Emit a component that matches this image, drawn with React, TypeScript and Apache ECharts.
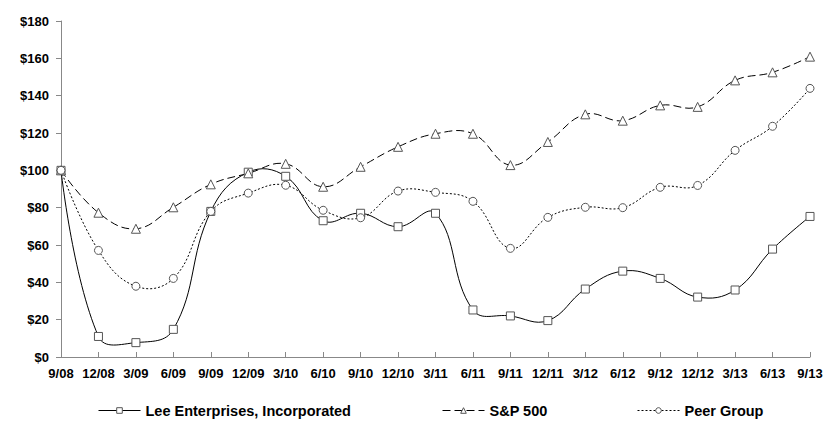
import React, { useEffect, useRef } from "react";
import * as echarts from "echarts";

const categories = ["9/08","12/08","3/09","6/09","9/09","12/09","3/10","6/10","9/10","12/10","3/11","6/11","9/11","12/11","3/12","6/12","9/12","12/12","3/13","6/13","9/13"];
const leeValues = [100, 11, 7.7, 14.8, 78, 99, 96.8, 73, 77, 69.8, 77, 25.2, 22, 19.5, 36.4, 46, 42.1, 32.1, 35.9, 57.8, 75.3];
const spValues = [100, 77.3, 68.7, 80.2, 92.5, 98.4, 103.5, 91.2, 101.9, 112.6, 119.6, 119.6, 102.8, 115.2, 130, 126.6, 134.8, 134, 148.2, 152.5, 160.9];
const peerValues = [100, 57.1, 37.9, 42.1, 78, 87.8, 92, 78.6, 74.6, 88.9, 88.2, 83.4, 58.2, 74.8, 80.2, 80, 90.9, 91.9, 110.7, 123.6, 143.9];
const seriesNames = ["Lee Enterprises, Incorporated", "S&P 500", "Peer Group"];

const FONT = "'Liberation Sans', Arial, sans-serif";
const TENSION = 0.42;

function smoothPath(pts: number[][]): string {
  let d = `M${pts[0][0]},${pts[0][1]}`;
  const n = pts.length;
  const cps: { inX: number; inY: number; outX: number; outY: number }[] = [];
  for (let i = 0; i < n; i++) {
    const p = pts[i];
    if (i === 0 || i === n - 1) {
      cps.push({ inX: p[0], inY: p[1], outX: p[0], outY: p[1] });
      continue;
    }
    const p0 = pts[i - 1];
    const p2 = pts[i + 1];
    const d01 = Math.hypot(p[0] - p0[0], p[1] - p0[1]);
    const d12 = Math.hypot(p2[0] - p[0], p2[1] - p[1]);
    const vx = p2[0] - p0[0];
    const vy = p2[1] - p0[1];
    const sum = d01 + d12 || 1;
    const fo = (TENSION * d12) / sum;
    const fi = (TENSION * d01) / sum;
    cps.push({ inX: p[0] - vx * fi, inY: p[1] - vy * fi, outX: p[0] + vx * fo, outY: p[1] + vy * fo });
  }
  for (let i = 0; i < n - 1; i++) {
    const a = cps[i];
    const b = cps[i + 1];
    const p = pts[i + 1];
    d += ` C${a.outX},${a.outY} ${b.inX},${b.inY} ${p[0]},${p[1]}`;
  }
  return d;
}

function curveSeries(values: number[], dash: number[] | null) {
  return {
    type: "custom",
    coordinateSystem: "cartesian2d",
    silent: true,
    z: 1,
    data: [[0, values[0]]],
    renderItem: (params: any, api: any) => {
      if (params.dataIndex !== 0) return null;
      const pts = values.map((v, i) => api.coord([i, v]));
      const style: any = { fill: "none", stroke: "#000000", lineWidth: 1 };
      if (dash) style.lineDash = dash;
      return { type: "path", shape: { pathData: smoothPath(pts) }, style };
    },
  };
}

export default function App() {
  const ref = useRef<HTMLDivElement>(null);
  useEffect(() => {
    if (!ref.current) return;
    const chart = echarts.init(ref.current, null, { renderer: "svg" });
    const markerStyle = { color: "#ffffff", borderColor: "#555555", borderWidth: 1 };
    const legendBase = {
      top: 398,
      itemWidth: 42,
      itemHeight: 7,
      textStyle: { fontFamily: FONT, fontSize: 14.5, fontWeight: "bold", color: "#000" },
    };
    const dashes: (number[] | string)[] = ["solid", [8, 4], [2, 2]];
    const legendItem = (i: number) => ({
      name: seriesNames[i],
      lineStyle: { color: "#000000", width: 1, type: dashes[i], opacity: 1 },
      itemStyle: markerStyle,
    });
    chart.setOption({
      animation: false,
      backgroundColor: "#ffffff",
      grid: { left: 61, right: 29, top: 21, bottom: 68 },
      legend: [
        { ...legendBase, left: 93, data: [legendItem(0)] },
        { ...legendBase, left: 437, data: [legendItem(1)] },
        { ...legendBase, left: 632, data: [legendItem(2)] },
      ],
      xAxis: {
        type: "category",
        data: categories,
        boundaryGap: false,
        axisLine: { lineStyle: { color: "#888888", width: 1 } },
        axisTick: { inside: true, length: 5, lineStyle: { color: "#888888" } },
        axisLabel: { fontFamily: FONT, fontSize: 13, fontWeight: "bold", color: "#000", margin: 10, interval: 0 },
        splitLine: { show: false },
      },
      yAxis: {
        type: "value",
        min: 0,
        max: 180,
        interval: 20,
        axisLine: { show: true, lineStyle: { color: "#888888", width: 1 } },
        axisTick: { show: true, inside: false, length: 5, lineStyle: { color: "#888888" } },
        axisLabel: { fontFamily: FONT, fontSize: 13, fontWeight: "bold", color: "#000", margin: 12, formatter: "${value}" },
        splitLine: { show: false },
      },
      series: [
        curveSeries(leeValues, null),
        curveSeries(spValues, [8, 4]),
        curveSeries(peerValues, [2, 2]),
        {
          name: seriesNames[0],
          type: "line",
          data: leeValues,
          symbol: "rect",
          symbolSize: 8,
          itemStyle: markerStyle,
          lineStyle: { color: "#000000", width: 1, opacity: 0 },
          z: 3,
        },
        {
          name: seriesNames[1],
          type: "line",
          data: spValues,
          symbol: "triangle",
          symbolSize: 9,
          itemStyle: markerStyle,
          lineStyle: { color: "#000000", width: 1, opacity: 0 },
          z: 3,
        },
        {
          name: seriesNames[2],
          type: "line",
          data: peerValues,
          symbol: "circle",
          symbolSize: 8,
          itemStyle: markerStyle,
          lineStyle: { color: "#000000", width: 1, opacity: 0 },
          z: 3,
        },
      ],
    });
    return () => chart.dispose();
  }, []);
  return <div ref={ref} style={{ width: 839, height: 425, position: "absolute", left: 0, top: 0 }} />;
}
